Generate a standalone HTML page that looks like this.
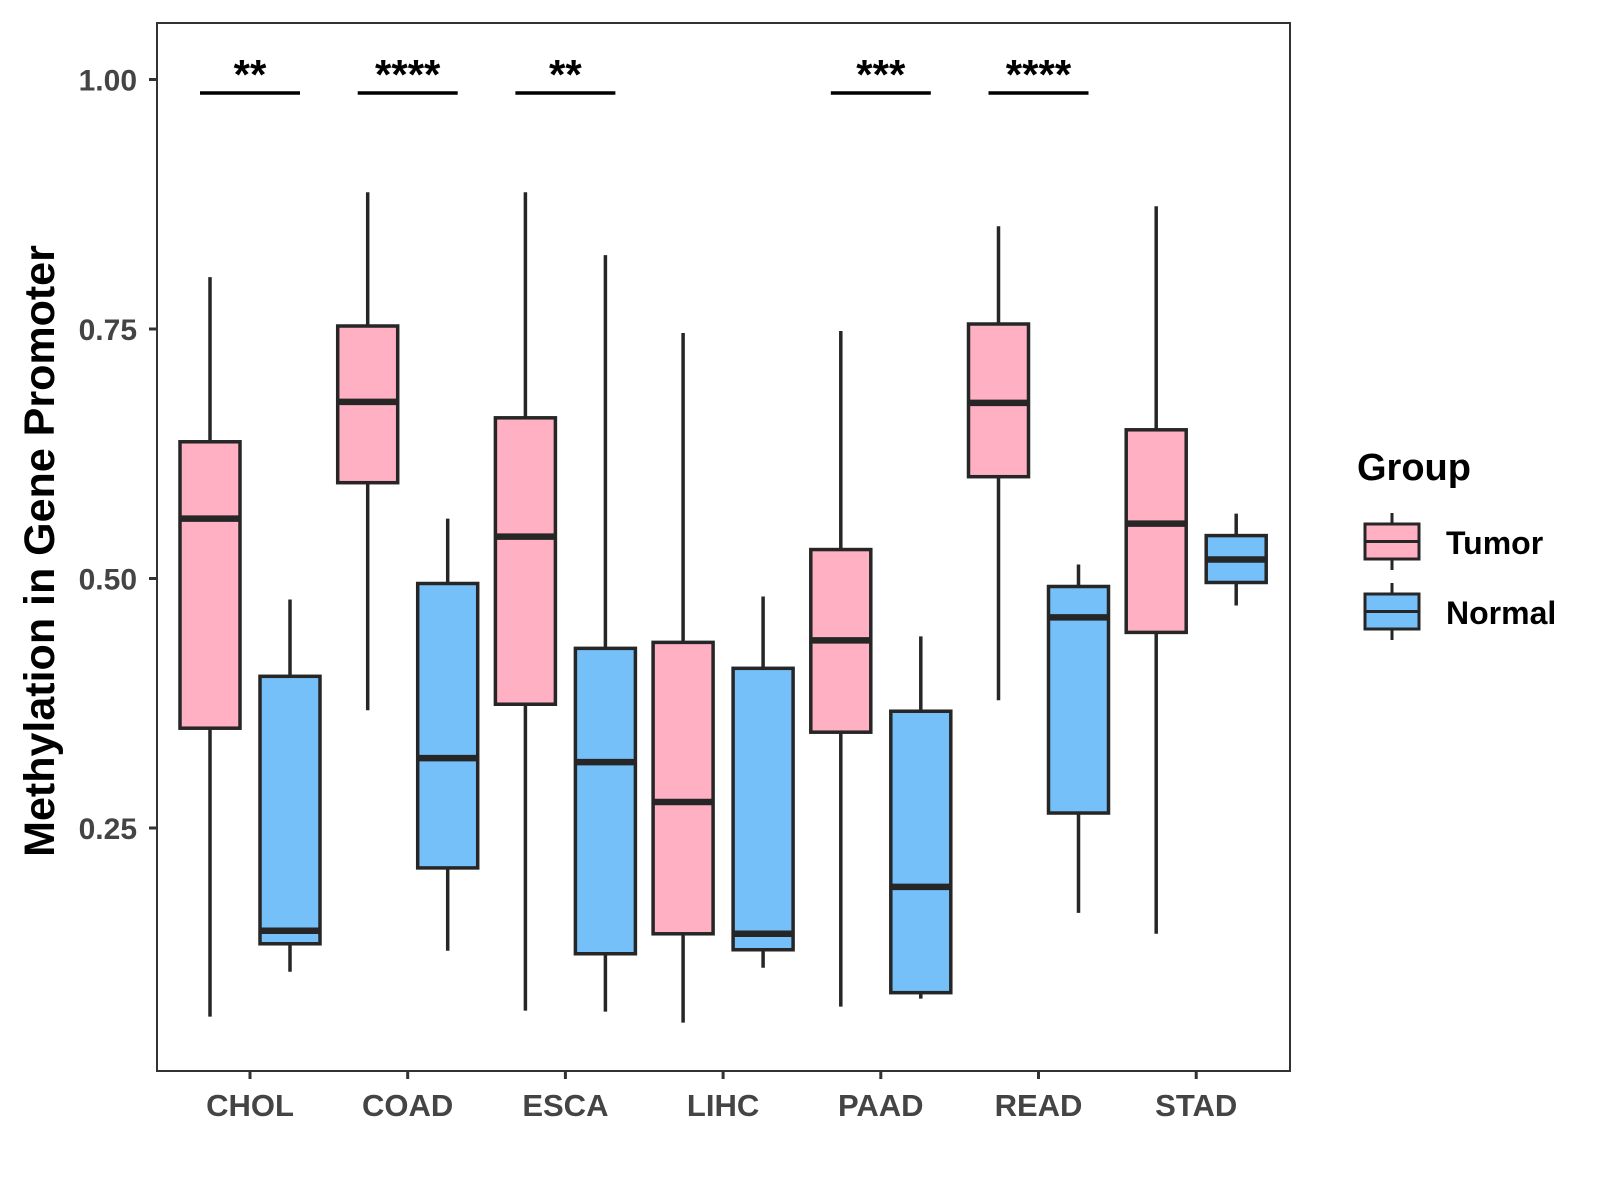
<!DOCTYPE html>
<html><head><meta charset="utf-8"><style>
html,body{margin:0;padding:0;background:#fff;}
svg{display:block;font-family:"Liberation Sans",Arial,sans-serif;}
</style></head><body>
<svg id="chart" width="1600" height="1200" viewBox="0 0 1600 1200">
<rect x="157" y="23" width="1133" height="1048" fill="#fff" stroke="#333" stroke-width="2"/>
<g id="ax"></g>
<g id="marks"></g>
<text transform="translate(54,551) rotate(-90)" text-anchor="middle" font-size="43" font-weight="bold" fill="#000">Methylation in Gene Promoter</text>
<g transform="translate(-7,-3)">
<text x="1364" y="483" font-size="38" font-weight="bold">Group</text>
<g>
<line x1="1399" y1="516" x2="1399" y2="573" stroke="#262626" stroke-width="3"/>
<rect x="1372" y="527" width="54" height="35" fill="#FFB0C3" stroke="#262626" stroke-width="3"/>
<line x1="1372" y1="544.5" x2="1426" y2="544.5" stroke="#262626" stroke-width="3"/>
<text x="1453" y="557" font-size="32" font-weight="bold">Tumor</text></g>
<g>
<line x1="1399" y1="586" x2="1399" y2="643" stroke="#262626" stroke-width="3"/>
<rect x="1372" y="597" width="54" height="35" fill="#75C0F8" stroke="#262626" stroke-width="3"/>
<line x1="1372" y1="614.5" x2="1426" y2="614.5" stroke="#262626" stroke-width="3"/>
<text x="1453" y="627" font-size="32" font-weight="bold">Normal</text></g>
</g>
</svg>
<script>
const categories=["CHOL","COAD","ESCA","LIHC","PAAD","READ","STAD"];
const tumorStats=[[0.061,0.350,0.560,0.637,0.802],[0.368,0.596,0.677,0.753,0.887],[0.067,0.374,0.542,0.661,0.887],[0.055,0.144,0.276,0.436,0.746],[0.071,0.346,0.438,0.529,0.748],[0.378,0.602,0.676,0.755,0.853],[0.144,0.446,0.555,0.649,0.873]];
const normalStats=[[0.106,0.134,0.147,0.402,0.479],[0.127,0.210,0.320,0.495,0.560],[0.066,0.124,0.316,0.430,0.824],[0.110,0.128,0.144,0.410,0.482],[0.079,0.085,0.191,0.367,0.442],[0.165,0.265,0.461,0.492,0.514],[0.473,0.496,0.519,0.543,0.565]];
const sigLabels=["**","****","**","","***","****",""];
const yTicks=[0.25,0.50,0.75,1.00];
const yTickLabels=["0.25","0.50","0.75","1.00"];
const NS="http://www.w3.org/2000/svg";
function y(v){return 79.5+(1-v)*998;}
function x(i){return 250+i*157.7;}
function mk(tag,attrs,parent){const e=document.createElementNS(NS,tag);for(const k in attrs)e.setAttribute(k,attrs[k]);parent.appendChild(e);return e;}
const ax=document.getElementById('ax'),marks=document.getElementById('marks');
yTicks.forEach((v,i)=>{
 const t=mk('line',{x1:149,x2:157,y1:y(v),y2:y(v),stroke:'#333','stroke-width':3},ax);
 
 
 const l=mk('text',{x:137,y:y(v)+11,'text-anchor':'end','font-size':30,'font-weight':'bold',fill:'#444'},ax);
 l.textContent=yTickLabels[i];
 
 
});
categories.forEach((c,i)=>{
 const t=mk('line',{x1:x(i),x2:x(i),y1:1071,y2:1079,stroke:'#333','stroke-width':3},ax);
 
 
 const l=mk('text',{x:x(i),y:1116,'text-anchor':'middle','font-size':31,'font-weight':'bold',fill:'#444'},ax);
 l.textContent=c;
 
 
 [[tumorStats[i],'#FFB0C3',-40,'tumor'],[normalStats[i],'#75C0F8',40,'normal']].forEach(([s,fill,off,nm])=>{
  const cx=x(i)+off;
  const g=mk('g',{},marks);
  
  
  mk('line',{x1:cx,x2:cx,y1:y(s[4]),y2:y(s[0]),stroke:'#262626','stroke-width':3.5},g);
  mk('rect',{x:cx-30,y:y(s[3]),width:60,height:y(s[1])-y(s[3]),fill:fill,stroke:'#262626','stroke-width':3.5},g);
  mk('line',{x1:cx-30,x2:cx+30,y1:y(s[2]),y2:y(s[2]),stroke:'#262626','stroke-width':6.5},g);
 });
 if(sigLabels[i]){
  const b=mk('line',{x1:x(i)-50,x2:x(i)+50,y1:93,y2:93,stroke:'#000','stroke-width':3.5},marks);
  
  
  const st=mk('text',{x:x(i),y:89,'text-anchor':'middle','font-size':42,'font-weight':'bold',fill:'#000'},marks);
  st.textContent=sigLabels[i];
  
  
 }
});
</script>
</body></html>
